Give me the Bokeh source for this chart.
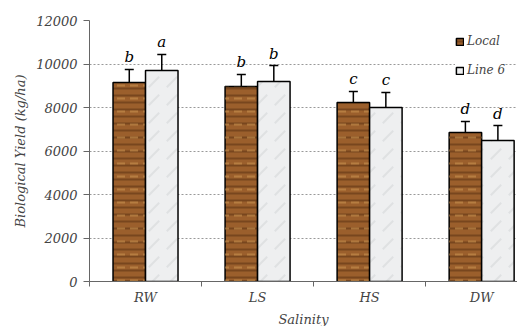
from bokeh.plotting import figure
from bokeh.models import FixedTicker, Range1d, Legend, LegendItem, ColumnDataSource
from bokeh.embed import file_html
from bokeh.resources import INLINE

categories = ["RW", "LS", "HS", "DW"]
local_vals = [9150, 8970, 8230, 6850]
local_err = [600, 550, 510, 510]
line6_vals = [9700, 9200, 8000, 6480]
line6_err = [740, 730, 690, 690]
local_letters = ["b", "b", "c", "d"]
line6_letters = ["a", "b", "c", "d"]
y_ticks = [0, 2000, 4000, 6000, 8000, 10000, 12000]

FONT = "DejaVu Serif"
centers = [i + 0.5 for i in range(len(categories))]
bw = 0.29
xl = [c - bw / 2 for c in centers]
xr = [c + bw / 2 for c in centers]

src_l = ColumnDataSource(dict(x=xl, top=local_vals,
                              et=[v + e for v, e in zip(local_vals, local_err)],
                              lab=local_letters))
src_r = ColumnDataSource(dict(x=xr, top=line6_vals,
                              et=[v + e for v, e in zip(line6_vals, line6_err)],
                              lab=line6_letters))

p = figure(frame_width=428, frame_height=261, output_backend="svg", toolbar_location=None,
           x_range=Range1d(0, 3.82), y_range=Range1d(0, 12000),
           min_border_left=89, min_border_right=0, min_border_top=20, min_border_bottom=10)
p.outline_line_color = None
p.background_fill_color = "white"

# bars
rl = p.vbar(x="x", top="top", width=bw, bottom=0, source=src_l,
            fill_color="#9b5f2c", line_color="black", line_width=1.5,
            hatch_pattern="horizontal_line", hatch_color="#5b3212", hatch_scale=7,
            hatch_weight=2, hatch_alpha=0.55)
p.vbar(x="x", top="top", width=bw, bottom=0, source=src_l, fill_alpha=0,
       line_alpha=0, hatch_pattern="horizontal_dash", hatch_color="#c8914f",
       hatch_scale=13, hatch_weight=2, hatch_alpha=0.6)
rr = p.vbar(x="x", top="top", width=bw, bottom=0, source=src_r,
            fill_color="#eeeff0", line_color="black", line_width=1.5,
            hatch_pattern="right_diagonal_dash", hatch_color="#c4c5c8", hatch_scale=18,
            hatch_weight=2, hatch_alpha=0.35)

# error bars
for s in (src_l, src_r):
    p.segment(x0="x", y0="top", x1="x", y1="et", source=s, line_color="black", line_width=1.5)
    p.scatter(x="x", y="et", source=s, marker="dash", size=9, line_color="black", line_width=1.5)
    p.text(x="x", y="et", text="lab", source=s, text_align="center", text_baseline="bottom",
           y_offset=-3, text_font={"value": FONT}, text_font_style="italic",
           text_font_size="15px", text_color="black")

# axes
p.xaxis.ticker = FixedTicker(ticks=centers, minor_ticks=list(range(len(categories) + 1)))
p.xaxis.major_label_overrides = {c: n for c, n in zip(centers, categories)}
p.xaxis.major_tick_out = 0
p.xaxis.major_tick_in = 0
p.xaxis.minor_tick_out = 5
p.xaxis.minor_tick_in = 0
p.xaxis.minor_tick_line_color = "#666666"
p.xaxis.axis_line_color = "#666666"
p.xaxis.major_label_text_font = FONT
p.xaxis.major_label_text_font_style = "italic"
p.xaxis.major_label_text_font_size = "13px"
p.xaxis.major_label_standoff = 3
p.xaxis.axis_label = "Salinity"
p.xaxis.axis_label_text_font = FONT
p.xaxis.axis_label_text_font_style = "italic"
p.xaxis.axis_label_text_font_size = "13px"
p.xaxis.axis_label_standoff = 4

p.yaxis.ticker = FixedTicker(ticks=y_ticks)
p.yaxis.minor_tick_line_color = None
p.yaxis.major_tick_in = 0
p.yaxis.major_tick_out = 6
p.yaxis.major_tick_line_color = "#666666"
p.yaxis.axis_line_color = "#666666"
p.yaxis.major_label_text_font = FONT
p.yaxis.major_label_text_font_style = "italic"
p.yaxis.major_label_text_font_size = "13px"
p.yaxis.major_label_standoff = 6
p.yaxis.axis_label = "Biological Yield (kg/ha)"
p.yaxis.axis_label_text_font = FONT
p.yaxis.axis_label_text_font_style = "italic"
p.yaxis.axis_label_text_font_size = "13px"
p.yaxis.axis_label_standoff = 5

p.xgrid.grid_line_color = None
p.ygrid.ticker = FixedTicker(ticks=y_ticks[1:-1])
p.ygrid.grid_line_color = "#999999"
p.ygrid.grid_line_dash = "2 2"
p.ygrid.grid_line_width = 1

legend = Legend(items=[LegendItem(label="Local", renderers=[rl]),
                       LegendItem(label="Line 6", renderers=[rr])],
                location=(366, 203), glyph_width=9, glyph_height=9,
                label_height=16, spacing=13, padding=4, margin=0, label_standoff=3,
                border_line_color=None, background_fill_color="white", background_fill_alpha=1,
                label_text_font=FONT, label_text_font_style="italic", label_text_font_size="12px")
p.add_layout(legend, "center")

open("out.html", "w").write(file_html(p, INLINE))
